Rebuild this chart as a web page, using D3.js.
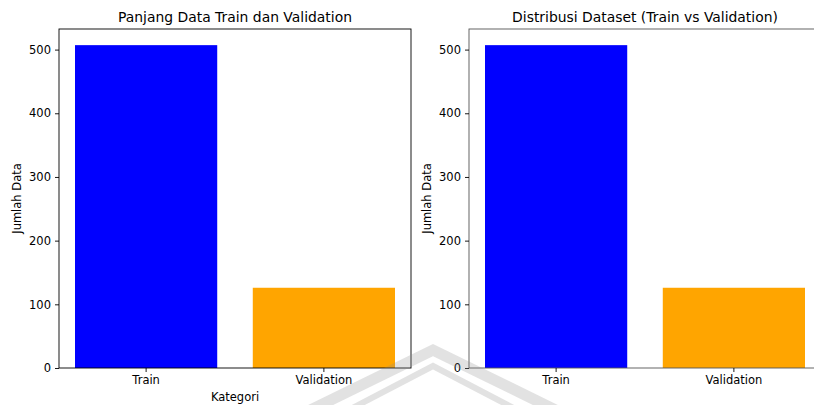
<!DOCTYPE html>
<html><head><meta charset="utf-8">
<script src="https://cdn.jsdelivr.net/npm/d3@7"></script>
<style>body{margin:0;background:#fff}svg{display:block}text{font-family:"DejaVu Sans",sans-serif;fill:#000}</style>
</head><body>
<script>
const categories = ["Train", "Validation"];
const counts = [507, 126];
const barColors = ["#0000ff", "#ffa500"];
const yTicks = [0, 100, 200, 300, 400, 500];
const titles = ["Panjang Data Train dan Validation", "Distribusi Dataset (Train vs Validation)"];
const xLabels = ["Kategori", null];
const yLabel = "Jumlah Data";

(function () {
const W = 814, H = 405;
const svg = d3.select("body").append("svg").attr("width", W).attr("height", H);

const panels = [{x0: 59, x1: 411, spine: "#000"}, {x0: 469, x1: 821, spine: "#555"}];
const plotTop = 29, plotBottom = 368;
const yMax = d3.max(counts) * 1.05;
const fs = 11.5, fsTitle = 13.9;

panels.forEach((p, i) => {
  const g = svg.append("g");
  const x = d3.scaleBand().domain(categories).range([p.x0, p.x1]).paddingInner(0.2).paddingOuter(0.09);
  const y = d3.scaleLinear().domain([0, yMax]).range([plotBottom, plotTop]);

  g.selectAll("rect.bar").data(categories).enter().append("rect")
    .attr("x", d => x(d)).attr("width", x.bandwidth())
    .attr("y", (d, j) => y(counts[j])).attr("height", (d, j) => y(0) - y(counts[j]))
    .attr("fill", (d, j) => barColors[j]);

  g.append("rect").attr("x", p.x0).attr("y", plotTop).attr("width", p.x1 - p.x0).attr("height", plotBottom - plotTop)
    .attr("fill", "none").attr("stroke", p.spine).attr("stroke-width", 0.9);

  const yAxis = d3.axisLeft(y).tickValues(yTicks).tickSize(4).tickPadding(4);
  const ya = g.append("g").attr("transform", `translate(${p.x0},0)`).call(yAxis);
  const xAxis = d3.axisBottom(x).tickSize(4).tickPadding(4);
  const xa = g.append("g").attr("transform", `translate(0,${plotBottom})`).call(xAxis);
  [ya, xa].forEach(a => {
    a.attr("font-size", fs).attr("font-family", "DejaVu Sans");
    a.select(".domain").remove();
    a.selectAll("line").attr("stroke", "#000").attr("stroke-width", 0.9);
    a.selectAll("text").attr("fill", "#000");
  });

  const cx = (p.x0 + p.x1) / 2;
  g.append("text").attr("x", cx).attr("y", plotTop - 7).attr("text-anchor", "middle")
    .attr("font-size", fsTitle).text(titles[i]);
  if (xLabels[i]) {
    g.append("text").attr("x", cx).attr("y", 401).attr("text-anchor", "middle")
      .attr("font-size", fs).text(xLabels[i]);
  }
  g.append("text").attr("transform", `translate(${p.x0 - 38},${(plotTop + plotBottom) / 2}) rotate(-90)`)
    .attr("text-anchor", "middle").attr("font-size", fs).text(yLabel);
});

const wm = svg.append("g").attr("fill", "none").attr("stroke", "rgba(140,140,140,0.25)").attr("stroke-linejoin", "miter");
wm.append("path").attr("d", "M290,420 L433,350 L576,420").attr("stroke-width", 11);
wm.append("path").attr("d", "M320,425 L433,366 L546,425").attr("stroke-width", 6);
})();
</script>
</body></html>
